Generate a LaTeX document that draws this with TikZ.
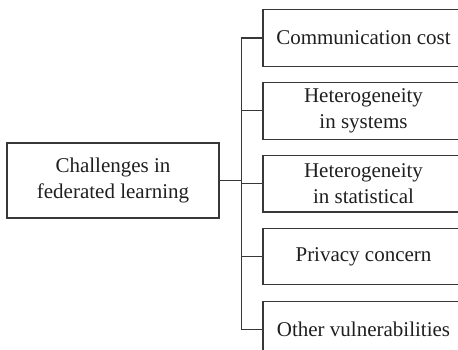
\documentclass[tikz,border=0pt]{standalone}
\usepackage{fontspec}
\setmainfont{Liberation Serif}
\usepackage{tikz}
\usetikzlibrary{positioning}

\begin{document}
\begin{tikzpicture}[
  x=1pt, y=-1pt,
  node distance=15.25pt,
  challenge/.style={draw=black!78, line width=1.1pt, minimum width=201pt, minimum height=56.5pt, inner sep=0pt, align=center, font=\fontsize{21}{26}\selectfont, text=black!88},
  rootbox/.style={draw=black!78, line width=1.1pt, minimum width=212pt, minimum height=75pt, inner sep=0pt, align=center, font=\fontsize{21}{26}\selectfont, text=black!88},
  branch/.style={draw=black!78, line width=1.1pt}
]
\useasboundingbox (0,0) rectangle (458,350);
\clip (0,0) rectangle (458,350);

% Root
\node[rootbox] (root) at (113,180.5) {Challenges in\\federated learning};

% Challenges
\node[challenge] (comm) at (363.5,38) {Communication cost};
\node[challenge, below=of comm] (hsys) {Heterogeneity\\in systems};
\node[challenge, below=of hsys] (hstat) {Heterogeneity\\in statistical};
\node[challenge, below=of hstat] (priv) {Privacy concern};
\node[challenge, below=of priv] (vuln) {Other vulnerabilities};

% Tree connectors
\foreach \c in {comm, hsys, hstat, priv, vuln}
  \draw[branch] (root.east) -- ++(22,0) |- (\c.west);

\end{tikzpicture}
\end{document}
